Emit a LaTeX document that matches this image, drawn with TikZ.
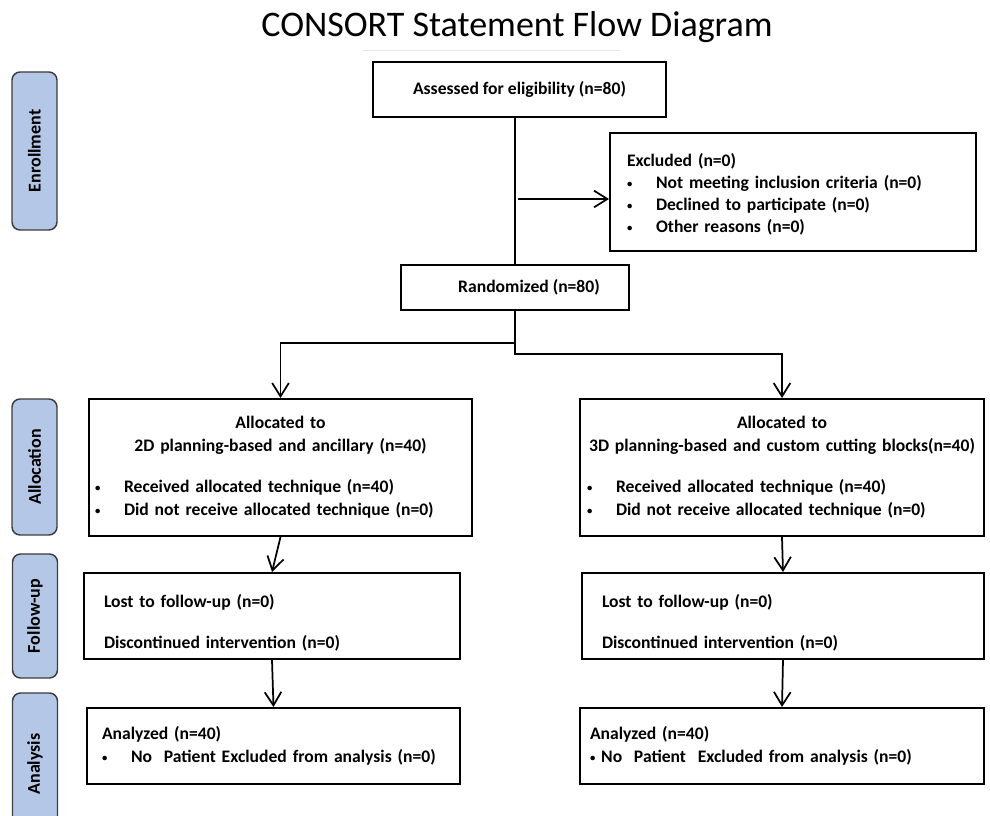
\documentclass[tikz,border=0pt]{standalone}
\usepackage{fontspec}
\setmainfont{Carlito}
\usepackage{xcolor}
\usepackage{tikz}
\usetikzlibrary{arrows.meta}

\definecolor{stageblue}{HTML}{B4C7E7}
\definecolor{stageedge}{HTML}{3C3C3C}
\newcommand{\dotb}{\raisebox{1.2pt}{\fontsize{8}{8}\selectfont\textbullet}}
\newcommand{\itm}{\makebox[21.75pt][l]{\dotb}}

\begin{document}
\begin{tikzpicture}[x=0.75pt,y=-0.75pt,
    box/.style={draw,line width=1.5pt,inner ysep=0pt,font=\bfseries\fontsize{13.2}{17.25}\selectfont},
    stage/.style={draw=stageedge,fill=stageblue,line width=1.1pt,rounded corners=6pt,rotate=90,
        inner sep=0pt,minimum height=33.75pt,font=\bfseries\fontsize{13.5}{15}\selectfont},
    link/.style={line width=1.3pt},
    arr/.style={link,-{Straight Barb[length=10pt,width=12.5pt]}}]
    \clip (0,0) rectangle (990,816);

    % Title
    \node[anchor=base,font=\fontsize{27}{32}\selectfont] (title) at (517,37) {CONSORT Statement Flow Diagram};
    \draw[gray!20,line width=0.5pt] (363,50) -- (620,50);

    % Stage labels on the left
    \node[stage,minimum width=118.5pt] (enroll) at (34.5,151) {Enrollment};
    \node[stage,minimum width=102pt] (allocst) at (34.5,467) {Allocation};
    \node[stage,minimum width=93pt] (fust) at (35,616) {Follow-up};
    \node[stage,minimum width=106.5pt] (anst) at (35,764) {Analysis};

    % Enrollment
    \node[box,minimum width=219.75pt,minimum height=41.25pt] (assess) at (519.5,89.5) {Assessed for eligibility (n=80)};
    \node[box,minimum width=274.5pt,minimum height=88.5pt,inner xsep=12.75pt,text width=249pt,align=left,
          font=\bfseries\fontsize{13.2}{16.5}\selectfont] (excl) at (793,192)
        {\rule{0pt}{14pt}Excluded (n=0)\\ \itm Not meeting inclusion criteria (n=0)\\ \itm Declined to participate (n=0)\\ \itm Other reasons (n=0)};
    \node[box,minimum width=171pt,minimum height=33.75pt] (rand) at (515,287.5) {};
    \node[inner sep=0pt,font=\bfseries\fontsize{13.2}{17.25}\selectfont] (randtxt) at (529,287.5) {Randomized (n=80)};

    \draw[link] (rand.north |- assess.south) -- (rand.north);
    \coordinate (exclfrom) at (518,199);
    \draw[arr] (exclfrom) -- (exclfrom -| excl.west);

    % Allocation
    \node[box,minimum width=287.25pt,minimum height=102.75pt,inner xsep=4.5pt,text width=278.25pt,align=left] (allocL) at (280.5,467.5)
        {\makebox[\linewidth]{Allocated to}\\ \makebox[\linewidth]{2D planning-based and ancillary (n=40)}\\[13.5pt]
         \itm Received allocated technique (n=40)\\ \itm Did not receive allocated technique (n=0)};
    \node[box,minimum width=303pt,minimum height=102.75pt,inner xsep=5.25pt,text width=292.5pt,align=left] (allocR) at (782,467.5)
        {\makebox[\linewidth]{Allocated to}\\ \makebox[\linewidth]{3D planning-based and custom cutting blocks(n=40)}\\[13.5pt]
         \itm Received allocated technique (n=40)\\ \itm Did not receive allocated technique (n=0)};

    \coordinate (splitL) at (rand.south |- 0,343);
    \coordinate (splitR) at (rand.south |- 0,354);
    \draw[arr] (rand.south) -- (splitR) -| (allocR.north);
    \draw[arr] (splitL) -| (allocL.north);

    % Follow-up
    \node[box,minimum width=282pt,minimum height=64.5pt,inner xsep=15pt,text width=252pt,align=left] (fuL) at (272,616)
        {\rule{0pt}{20pt}Lost to follow-up (n=0)\\[14.25pt] Discontinued intervention (n=0)};
    \node[box,minimum width=301.5pt,minimum height=64.5pt,inner xsep=15pt,text width=271.5pt,align=left] (fuR) at (783,616)
        {\rule{0pt}{20pt}Lost to follow-up (n=0)\\[14.25pt] Discontinued intervention (n=0)};

    \draw[arr] (allocL.south) -- (fuL.north);
    \draw[arr] (allocR.south) -- (fuR.north);

    % Analysis
    \node[box,minimum width=279.75pt,minimum height=57pt,inner xsep=11.25pt,text width=257.25pt,align=left] (anL) at (273.5,746)
        {Analyzed (n=40)\\ \itm No~~Patient Excluded from analysis (n=0)};
    \node[box,minimum width=303pt,minimum height=57pt,inner xsep=7.5pt,text width=288pt,align=left] (anR) at (782,746)
        {Analyzed (n=40)\\ \dotb{} No~~Patient~~Excluded from analysis (n=0)};

    \draw[arr] (fuL.south) -- (anL.north);
    \draw[arr] (fuR.south) -- (anR.north);
\end{tikzpicture}
\end{document}
